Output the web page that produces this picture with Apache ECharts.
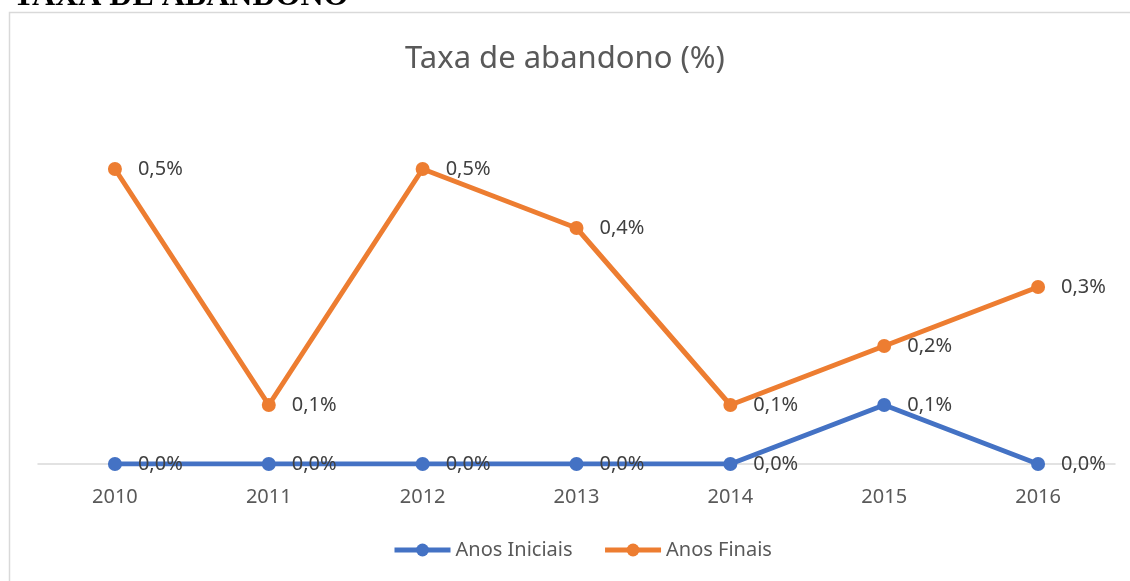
<!DOCTYPE html>
<html><head><meta charset="utf-8">
<script src="https://cdn.jsdelivr.net/npm/echarts@6/dist/echarts.min.js"></script>
<style>html,body{margin:0;padding:0;background:#fff}#c{width:1130px;height:581px}</style>
</head><body><div id="c"></div>
<script>
const years = ['2010','2011','2012','2013','2014','2015','2016'];
const anosIniciais = [0.0, 0.0, 0.0, 0.0, 0.0, 0.1, 0.0];
const anosFinais = [0.5, 0.1, 0.5, 0.4, 0.1, 0.2, 0.3];
const chartTitle = 'Taxa de abandono (%)';
const pageHeading = 'TAXA DE ABANDONO';

const FONT = 'Noto Sans';
const fmt = p => p.value.toFixed(1).replace('.', ',') + '%';
const chart = echarts.init(document.getElementById('c'));
function series(name, data, color) {
  return {
    name, type: 'line', data,
    symbol: 'circle', symbolSize: 14,
    lineStyle: { width: 5, color }, itemStyle: { color },
    label: { show: true, position: 'right', distance: 16, formatter: fmt,
      fontFamily: FONT, fontSize: 20, color: '#404040' },
    emphasis: { disabled: true }, animation: false
  };
}
chart.setOption({
  animation: false,
  title: { text: chartTitle, left: 'center', top: 39,
    textStyle: { fontFamily: FONT, fontSize: 31, fontWeight: 'normal', color: '#595959' } },
  graphic: [
    { type: 'rect', shape: { x: 9.5, y: 12.5, width: 1140, height: 600 },
      style: { fill: 'none', stroke: '#d9d9d9', lineWidth: 1.5 }, z: -10 },
    { type: 'text', style: { text: pageHeading, x: 13, y: 13, verticalAlign: 'bottom',
      font: 'bold 32px "Liberation Serif"', fill: '#000' } }
  ],
  legend: { top: 535, left: 387, itemWidth: 56, itemHeight: 16, itemGap: 30,
    lineStyle: { width: 5 },
    textStyle: { fontFamily: FONT, fontSize: 20, color: '#595959' },
    data: ['Anos Iniciais', 'Anos Finais'] },
  grid: { left: 38, right: 15, top: 110, bottom: 117 },
  xAxis: { type: 'category', data: years, boundaryGap: true,
    axisLine: { lineStyle: { color: '#d9d9d9', width: 1.5 } },
    axisTick: { show: false },
    axisLabel: { fontFamily: FONT, fontSize: 20, color: '#595959', margin: 23 } },
  yAxis: { type: 'value', min: 0, max: 0.6, show: false, splitLine: { show: false } },
  series: [
    series('Anos Iniciais', anosIniciais, '#4472c4'),
    series('Anos Finais', anosFinais, '#ed7d31')
  ]
});
</script></body></html>
